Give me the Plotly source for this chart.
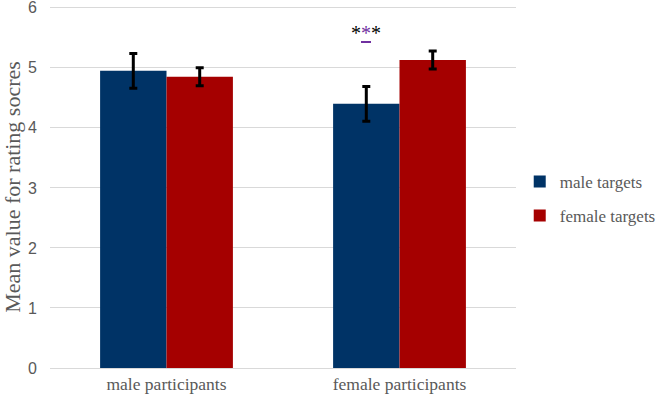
import plotly.graph_objects as go

categories = ["male participants", "female participants"]
series_names = ["male targets", "female targets"]
male_targets = [4.95, 4.40]
female_targets = [4.85, 5.13]
male_err = [0.29, 0.29]
female_err = [0.15, 0.15]
colors = ["#003366", "#A50000"]
y_ticks = [0, 1, 2, 3, 4, 5, 6]
sig_label = "*<span style='color:#7030A0'><u>*</u></span>*"
sig_pos = ("female participants", 5.58)

gray = "#595959"
fig = go.Figure()
for name, vals, err, col, grp in zip(series_names, [male_targets, female_targets],
                                     [male_err, female_err], colors, ["a", "b"]):
    fig.add_trace(go.Bar(
        x=categories, y=vals, name=name, marker=dict(color=col, line=dict(width=0)),
        error_y=dict(type="data", array=err, visible=True, color="black", thickness=3, width=4),
        legendgroup=grp,
    ))

fig.add_annotation(x=sig_pos[0], y=sig_pos[1], text=sig_label, showarrow=False,
                   xshift=-34, font=dict(family="Liberation Serif", size=20, color="black"))

fig.update_layout(
    width=660, height=400,
    margin=dict(l=50, r=144, t=6, b=32, autoexpand=False),
    plot_bgcolor="white", paper_bgcolor="white",
    barmode="group", bargap=0.43, bargroupgap=0,
    showlegend=True,
    legend=dict(x=1.008, xanchor="left", y=0.467, yanchor="middle",
                font=dict(family="Liberation Serif", size=17, color=gray),
                traceorder="grouped", tracegroupgap=9, itemwidth=30),
    yaxis=dict(range=[0, 6.03], tickvals=y_ticks, showgrid=True, gridcolor="#D9D9D9",
               gridwidth=1, zeroline=False, showline=False, ticks="",
               automargin=False, ticklabeloverflow="allow", ticklabelstandoff=12,
               tickfont=dict(family="Liberation Sans", size=16, color=gray),
               title=dict(text="Mean value for rating socres", standoff=7,
                          font=dict(family="Liberation Serif", size=22, color=gray))),
    xaxis=dict(showline=True, linecolor="#D9D9D9", linewidth=1, ticks="",
               automargin=False,
               tickfont=dict(family="Liberation Serif", size=17.5, color=gray)),
)

fig.write_html("out.html", config={"displayModeBar": False},
               post_script="document.body.style.margin='0';document.body.style.padding='0';")
